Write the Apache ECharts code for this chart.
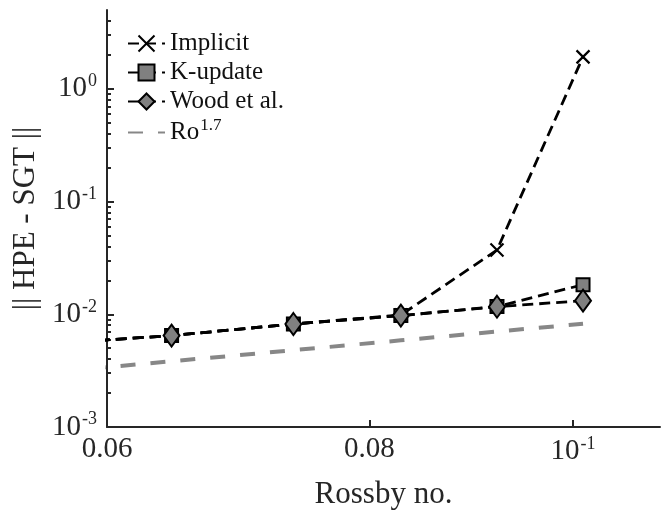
<!DOCTYPE html>
<html>
<head>
<meta charset="utf-8">
<script src="https://cdn.jsdelivr.net/npm/echarts@6/dist/echarts.min.js"></script>
<style>
  html, body { margin: 0; padding: 0; background: #fff; }
  #chart { width: 670px; height: 515px; }
</style>
</head>
<body>
<div id="chart"></div>
<script>
// Rossby numbers of the runs (the first one lies left of the plotted range)
const rossby = [0.0552, 0.0644, 0.0736, 0.0828, 0.0920, 0.1011];

// || HPE - SGT || error norms
const implicitErr = [0.00534, 0.00647, 0.0082, 0.00985, 0.0371, 1.92];
const kUpdateErr  = [0.00534, 0.00647, 0.0082, 0.00973, 0.0117, 0.0183];
const woodErr     = [0.00534, 0.00647, 0.0082, 0.00973, 0.01167, 0.0132];

// Reference slope Ro^1.7
const refSlope    = [0.00295, 0.00383, 0.0048, 0.00587, 0.00703, 0.00824];

// Axis ticks and labels
const xTickValues = [0.06, 0.08, 0.1];
const xTickLabels = ['0.06', '0.08', '10^-1'];
const yTickValues = [0.001, 0.01, 0.1, 1];
const yTickLabels = ['10^-3', '10^-2', '10^-1', '10^0'];
const yMinorTicks = [0.002, 0.003, 0.004, 0.005, 0.006, 0.007, 0.008, 0.009,
                     0.02, 0.03, 0.04, 0.05, 0.06, 0.07, 0.08, 0.09,
                     0.2, 0.3, 0.4, 0.5, 0.6, 0.7, 0.8, 0.9,
                     2, 3, 4];

const seriesNames = ['Implicit', 'K-update', 'Wood et al.', 'Ro^1.7'];

const FONT = '"Liberation Serif", "DejaVu Serif", serif';
const INK = '#262626';
const MARKER_GRAY = '#808080';

// "10^-3" -> rich text with a raised exponent
function sup(text) {
  const i = text.indexOf('^');
  if (i < 0) return '{b|' + text + '}';
  return '{b|' + text.slice(0, i) + '}{s|' + text.slice(i + 1) + '}';
}
function labelFor(values, labels) {
  return function (v) {
    for (let k = 0; k < values.length; k++) {
      if (Math.abs(v - values[k]) / values[k] < 1e-6) return sup(labels[k]);
    }
    return '';
  };
}
function pairs(ys) {
  return rossby.map((x, i) => [x, ys[i]]);
}

const tickRich = {
  b: { fontFamily: FONT, fontSize: 29, color: INK },
  s: { fontFamily: FONT, fontSize: 18, color: INK, padding: [0, 0, 15, 1] }
};

const chart = echarts.init(document.getElementById('chart'), null, { renderer: 'canvas' });

chart.setOption({
  animation: false,
  backgroundColor: '#fff',
  grid: { left: 107, right: 10, top: 10, bottom: 87, containLabel: false },
  legend: {
    left: 122,
    top: 25,
    orient: 'vertical',
    itemWidth: 37,
    itemHeight: 20,
    itemGap: 2,
    data: [
      { name: seriesNames[0] },
      { name: seriesNames[1] },
      { name: seriesNames[2] },
      { name: seriesNames[3], itemStyle: { opacity: 0 } }
    ],
    formatter: name => sup(name),
    textStyle: {
      fontFamily: FONT, fontSize: 25, color: '#111', lineHeight: 27,
      rich: {
        b: { fontFamily: FONT, fontSize: 25, color: '#111' },
        s: { fontFamily: FONT, fontSize: 17, color: '#111', padding: [0, 0, 14, 1] }
      }
    }
  },
  xAxis: {
    type: 'log',
    logBase: 10,
    min: 0.06,
    max: 0.11,
    name: 'Rossby no.',
    nameLocation: 'middle',
    nameGap: 52,
    nameTextStyle: { fontFamily: FONT, fontSize: 31, color: INK },
    axisLine: { show: true, lineStyle: { color: INK, width: 2 } },
    axisTick: { show: true, inside: true, length: 7, customValues: xTickValues,
                lineStyle: { color: INK, width: 2 } },
    axisLabel: { show: true, margin: 8, customValues: xTickValues,
                 formatter: labelFor(xTickValues, xTickLabels), rich: tickRich },
    splitLine: { show: false },
    minorTick: { show: false }
  },
  yAxis: [
    {
      type: 'log',
      logBase: 10,
      min: 0.001,
      max: 5,
      position: 'left',
      name: '|| HPE - SGT ||',
      nameLocation: 'middle',
      nameRotate: 90,
      nameGap: 64,
      nameTextStyle: { fontFamily: FONT, fontSize: 31, color: INK },
      axisLine: { show: true, lineStyle: { color: INK, width: 2 } },
      axisTick: { show: true, inside: true, length: 7, customValues: yTickValues,
                  lineStyle: { color: INK, width: 2 } },
      axisLabel: { show: true, margin: 10, customValues: yTickValues,
                   formatter: labelFor(yTickValues, yTickLabels), rich: tickRich },
      splitLine: { show: false }
    },
    {
      // minor ticks at 2..9 x 10^k
      type: 'log',
      logBase: 10,
      min: 0.001,
      max: 5,
      position: 'left',
      offset: 0,
      axisLine: { show: false },
      axisTick: { show: true, inside: true, length: 4, customValues: yMinorTicks,
                  lineStyle: { color: INK, width: 2 } },
      axisLabel: { show: false },
      splitLine: { show: false }
    }
  ],
  series: [
    {
      name: seriesNames[0],
      type: 'line',
      data: pairs(implicitErr),
      clip: true,
      symbol: 'path://M0,0L10,10M10,0L0,10',
      symbolSize: 13,
      showAllSymbol: true,
      lineStyle: { color: '#000', width: 2.8, type: [11, 6] },
      itemStyle: { color: '#000', borderColor: '#000', borderWidth: 2.2 },
      z: 2
    },
    {
      name: seriesNames[1],
      type: 'line',
      data: pairs(kUpdateErr),
      clip: true,
      symbol: 'rect',
      symbolSize: 13,
      showAllSymbol: true,
      lineStyle: { color: '#000', width: 2.8, type: [11, 6] },
      itemStyle: { color: MARKER_GRAY, borderColor: '#000', borderWidth: 2 },
      z: 3
    },
    {
      name: seriesNames[2],
      type: 'line',
      data: pairs(woodErr),
      clip: true,
      symbol: 'diamond',
      symbolSize: [16, 22],
      showAllSymbol: true,
      lineStyle: { color: '#000', width: 2.8, type: [11, 6] },
      itemStyle: { color: MARKER_GRAY, borderColor: '#000', borderWidth: 2 },
      z: 4
    },
    {
      name: seriesNames[3],
      type: 'line',
      data: pairs(refSlope),
      clip: true,
      symbol: 'none',
      lineStyle: { color: '#878787', width: 4, type: [15, 15] },
      itemStyle: { color: '#878787', opacity: 0 },
      z: 1
    }
  ]
});
</script>
</body>
</html>
